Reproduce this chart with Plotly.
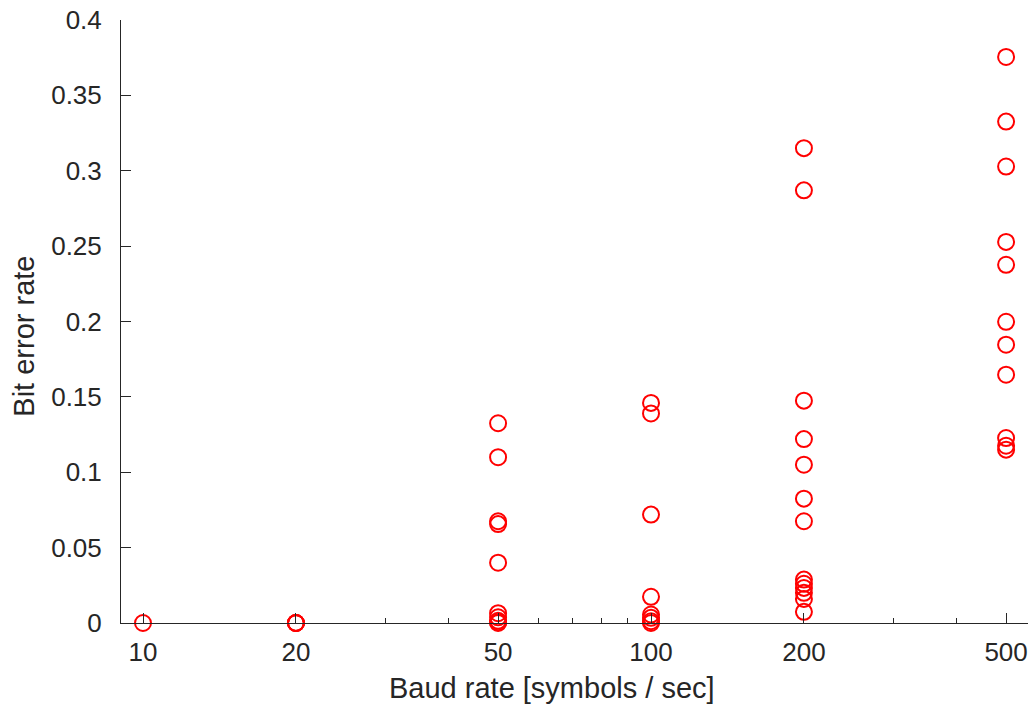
import plotly.graph_objects as go

# Measured bit error rates per baud rate
baud_10 = [10]
ber_10 = [0.0]

baud_20 = [20] * 4
ber_20 = [0.0, 0.0, 0.0, 0.0]

baud_50 = [50] * 10
ber_50 = [0.1325, 0.110, 0.0675, 0.0656, 0.040, 0.0065, 0.0038, 0.0015, 0.0005, 0.0]

baud_100 = [100] * 8
ber_100 = [0.146, 0.139, 0.0719, 0.0174, 0.0056, 0.0034, 0.0012, 0.0]

baud_200 = [200] * 13
ber_200 = [0.315, 0.287, 0.1475, 0.122, 0.105, 0.0825, 0.0675,
           0.0288, 0.026, 0.0233, 0.020, 0.016, 0.0074]

baud_500 = [500] * 11
ber_500 = [0.3755, 0.3326, 0.3028, 0.2528, 0.2376, 0.1998, 0.1846,
           0.1647, 0.1227, 0.1176, 0.115]

x_major = [10, 20, 50, 100, 200, 500]
x_minor = [30, 40, 60, 70, 80, 90, 300, 400]
y_ticks = [0, 0.05, 0.1, 0.15, 0.2, 0.25, 0.3, 0.35, 0.4]
y_labels = ["0", "0.05", "0.1", "0.15", "0.2", "0.25", "0.3", "0.35", "0.4"]

xs = baud_10 + baud_20 + baud_50 + baud_100 + baud_200 + baud_500
ys = ber_10 + ber_20 + ber_50 + ber_100 + ber_200 + ber_500

INK = "#262626"
FONT = "Liberation Sans, Arial, Helvetica, sans-serif"

fig = go.Figure(
    go.Scatter(
        x=xs,
        y=ys,
        mode="markers",
        marker=dict(symbol="circle-open", size=16, color="#ff0000",
                    line=dict(width=2, color="#ff0000")),
        cliponaxis=False,
        showlegend=False,
    )
)

fig.update_layout(
    width=1030,
    height=710,
    margin=dict(l=121, r=2, t=20, b=86.5),
    paper_bgcolor="white",
    plot_bgcolor="white",
    font=dict(family=FONT, size=26, color=INK),
)

fig.update_xaxes(
    type="log",
    range=[0.95669, 2.7421],
    tickmode="array",
    tickvals=x_major,
    ticktext=[str(v) for v in x_major],
    ticks="inside",
    ticklen=10,
    tickwidth=1,
    tickcolor=INK,
    ticklabelstandoff=6,
    minor=dict(tickmode="array", tickvals=x_minor, ticks="inside",
               ticklen=5, tickwidth=1, tickcolor=INK, showgrid=False),
    showline=True,
    linecolor=INK,
    linewidth=1,
    showgrid=False,
    zeroline=False,
    tickfont=dict(size=26, color=INK),
)

fig.update_yaxes(
    range=[0, 0.4],
    tickmode="array",
    tickvals=y_ticks,
    ticktext=y_labels,
    ticks="inside",
    ticklen=10,
    tickwidth=1,
    tickcolor=INK,
    ticklabelstandoff=13,
    showline=True,
    linecolor=INK,
    linewidth=1,
    showgrid=False,
    zeroline=False,
    tickfont=dict(size=26, color=INK),
)

fig.add_annotation(
    text="Baud rate [symbols / sec]",
    xref="paper", yref="paper", x=0.4747, y=-0.1085,
    xanchor="center", yanchor="middle", showarrow=False,
    font=dict(size=29, color=INK, family=FONT),
)
fig.add_annotation(
    text="Bit error rate",
    xref="paper", yref="paper", x=-0.107, y=0.4764,
    xanchor="center", yanchor="middle", textangle=-90, showarrow=False,
    font=dict(size=29, color=INK, family=FONT),
)

fig.write_html("out.html")
